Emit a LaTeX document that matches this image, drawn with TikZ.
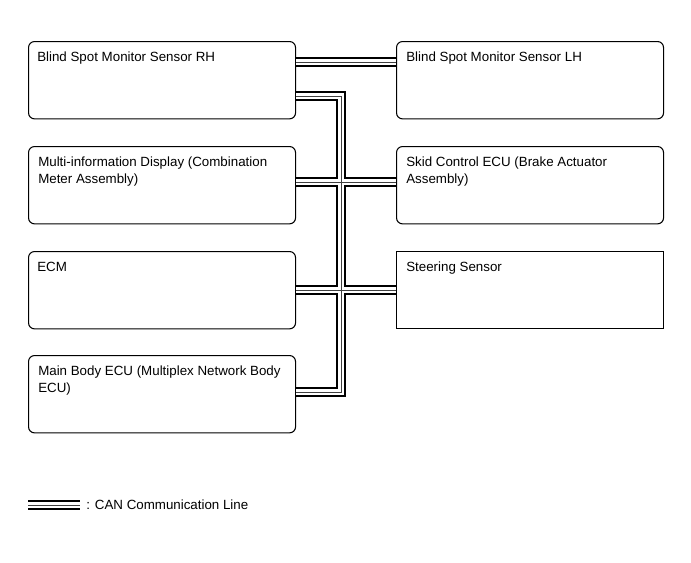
\documentclass[tikz,border=0pt]{standalone}
\usepackage{fontspec}
\setmainfont{Liberation Sans}
\newcommand\twoline[2]{\begin{tabular}[t]{@{}l@{}}#1\\#2\end{tabular}}
\begin{document}
\begin{tikzpicture}[x=0.75pt,y=-0.75pt,
  box/.style={draw,line width=0.8pt,rounded corners=4.5pt,minimum width=200.25pt,minimum height=58pt,inner sep=0pt,anchor=north west},
  sqbox/.style={box,rounded corners=0pt},
  lbl/.style={anchor=base west,inner sep=0pt,font=\fontsize{10}{12.75}\selectfont},
  canA/.style={line width=7.2pt,black,line join=miter},
  canB/.style={line width=4pt,white,line join=miter},
  canC/.style={line width=0.6pt,black!75,line join=miter}]
\useasboundingbox (0,0) rectangle (691,562);
% boxes
\node[box] (rh) at (28,41) {};
\node[box] (mi) at (28,146) {};
\node[box] (ecm) at (28,251) {};
\node[box] (mb) at (28,355) {};
\node[box] (lh) at (396,41) {};
\node[box] (skid) at (396,146) {};
\node[sqbox] (steer) at (396,251) {};
% labels
\node[lbl] (trh) at (37,61) {Blind Spot Monitor Sensor RH};
\node[lbl] (tmi) at (38,166) {\twoline{Multi-information Display (Combination}{Meter Assembly)}};
\node[lbl] (tecm) at (37,271) {ECM};
\node[lbl] (tmb) at (38,375) {\twoline{Main Body ECU (Multiplex Network Body}{ECU)}};
\node[lbl] (tlh) at (406,61) {Blind Spot Monitor Sensor LH};
\node[lbl] (tskid) at (406,166) {\twoline{Skid Control ECU (Brake Actuator}{Assembly)}};
\node[lbl] (tsteer) at (406,271) {Steering Sensor};
% bus coordinates
\coordinate (ytop) at (0,62);
\coordinate (bt) at (341,96);
\coordinate (bb) at (341,392);
\coordinate (y2) at (0,182);
\coordinate (y3) at (0,290);
\coordinate (lg1) at (28,505);
\coordinate (lg2) at (80,505);
\foreach \s in {canA,canB,canC}{
  \draw[\s] (rh.east |- ytop) -- (lh.west |- ytop);
  \draw[\s] (rh.east |- bt) -- (bt) -- (bb) -- (mb.east |- bb);
  \draw[\s] (mi.east |- y2) -- (skid.west |- y2);
  \draw[\s] (ecm.east |- y3) -- (steer.west |- y3);
  \draw[\s] (lg1) -- (lg2);
}
\node[anchor=west,inner sep=0pt,font=\fontsize{10}{12}\selectfont] (lgt) at (86,505) {: CAN Communication Line};
\end{tikzpicture}
\end{document}
